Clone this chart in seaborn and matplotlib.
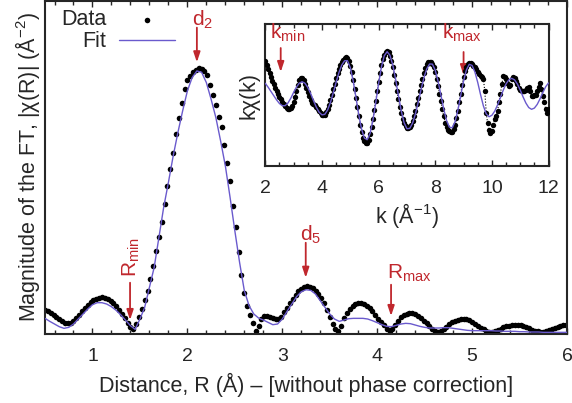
import numpy as np
import pandas as pd
import seaborn as sns
import matplotlib.pyplot as plt
from matplotlib.ticker import MultipleLocator

# FT magnitude, data on a 0.03 A grid (arbitrary units, peak ~0.8)
r_data = np.round(np.arange(0.5, 6.0, 0.03), 2)
chir_data = [0.072, 0.068, 0.063, 0.057, 0.051, 0.045, 0.039, 0.034, 0.032, 0.034,
             0.040, 0.048, 0.058, 0.068, 0.078, 0.087, 0.095, 0.101, 0.106, 0.109,
             0.110, 0.109, 0.106, 0.100, 0.092, 0.083, 0.072, 0.060, 0.047, 0.034,
             0.022, 0.016, 0.030, 0.052, 0.075, 0.102, 0.130, 0.165, 0.205, 0.248,
             0.290, 0.335, 0.390, 0.445, 0.495, 0.545, 0.600, 0.650, 0.695, 0.735,
             0.762, 0.775, 0.786, 0.794, 0.798, 0.796, 0.790, 0.777, 0.748, 0.718,
             0.688, 0.652, 0.622, 0.569, 0.514, 0.458, 0.385, 0.320, 0.245, 0.178,
             0.122, 0.084, 0.057, 0.032, 0.010, 0.025, 0.045, 0.053, 0.054, 0.052,
             0.048, 0.045, 0.044, 0.050, 0.065, 0.078, 0.092, 0.105, 0.118, 0.128,
             0.136, 0.141, 0.143, 0.142, 0.138, 0.130, 0.120, 0.108, 0.092, 0.073,
             0.050, 0.030, 0.014, 0.008, 0.025, 0.048, 0.063, 0.075, 0.085, 0.090,
             0.093, 0.093, 0.090, 0.085, 0.078, 0.068, 0.057, 0.045, 0.035, 0.026,
             0.016, 0.008, 0.015, 0.028, 0.040, 0.050, 0.056, 0.060, 0.062, 0.062,
             0.060, 0.055, 0.048, 0.040, 0.032, 0.024, 0.016, 0.010, 0.006, 0.008,
             0.014, 0.022, 0.029, 0.035, 0.040, 0.043, 0.045, 0.045, 0.044, 0.041,
             0.036, 0.031, 0.025, 0.019, 0.014, 0.010, 0.007, 0.006, 0.008, 0.012,
             0.016, 0.020, 0.023, 0.025, 0.027, 0.027, 0.027, 0.026, 0.024, 0.021,
             0.017, 0.013, 0.010, 0.008, 0.007, 0.007, 0.009, 0.012, 0.015, 0.019,
             0.022, 0.024, 0.026, 0.028]

# fit, 0.05 A grid
r_fit = np.round(np.arange(0.5, 6.001, 0.05), 2)
chir_fit = [0.047, 0.038, 0.030, 0.022, 0.017, 0.020, 0.030, 0.045, 0.060, 0.075,
            0.088, 0.094, 0.094, 0.090, 0.082, 0.071, 0.057, 0.041, 0.025, 0.014,
            0.045, 0.080, 0.140, 0.200, 0.290, 0.380, 0.455, 0.534, 0.605, 0.670,
            0.730, 0.770, 0.790, 0.786, 0.755, 0.705, 0.650, 0.580, 0.505, 0.410,
            0.310, 0.215, 0.130, 0.085, 0.060, 0.048, 0.042, 0.035, 0.028, 0.030,
            0.045, 0.068, 0.090, 0.112, 0.127, 0.133, 0.131, 0.120, 0.100, 0.080,
            0.060, 0.045, 0.038, 0.042, 0.046, 0.047, 0.047, 0.047, 0.045, 0.040,
            0.034, 0.028, 0.023, 0.022, 0.026, 0.030, 0.032, 0.031, 0.027, 0.023,
            0.020, 0.018, 0.018, 0.018, 0.019, 0.019, 0.017, 0.015, 0.013, 0.011,
            0.010, 0.010, 0.010, 0.010, 0.010, 0.009, 0.009, 0.008, 0.008, 0.008,
            0.007, 0.007, 0.006, 0.006, 0.006, 0.005, 0.005, 0.005, 0.005, 0.005,
            0.005]

# inset: k*chi(k), data every 0.05 1/A
k_data = np.round(np.arange(2.0, 12.001, 0.05), 2)
kchi_data = [0.48, 0.42, 0.37, 0.31, 0.25, 0.20, 0.15, 0.095, 0.05, 0.01,
             -0.03, -0.06, -0.10, -0.13, -0.16, -0.18, -0.195, -0.20, -0.185, -0.15,
             -0.10, -0.03, 0.05, 0.14, 0.21, 0.245, 0.245, 0.21, 0.16, 0.10,
             0.04, -0.02, -0.07, -0.11, -0.125, -0.14, -0.165, -0.19, -0.22, -0.25,
             -0.275, -0.285, -0.275, -0.245, -0.20, -0.14, -0.075, 0.00, 0.08, 0.16,
             0.24, 0.31, 0.37, 0.42, 0.465, 0.50, 0.525, 0.535, 0.52, 0.48,
             0.41, 0.32, 0.21, 0.09, -0.04, -0.17, -0.30, -0.42, -0.52, -0.60,
             -0.65, -0.68, -0.67, -0.63, -0.55, -0.45, -0.34, -0.21, -0.08, 0.06,
             0.19, 0.31, 0.42, 0.51, 0.57, 0.61, 0.625, 0.60, 0.55, 0.48,
             0.39, 0.28, 0.17, 0.05, -0.06, -0.17, -0.26, -0.34, -0.40, -0.44,
             -0.465, -0.47, -0.455, -0.42, -0.37, -0.30, -0.22, -0.13, -0.04, 0.05,
             0.14, 0.23, 0.31, 0.38, 0.43, 0.46, 0.47, 0.465, 0.44, 0.39,
             0.32, 0.23, 0.13, 0.02, -0.09, -0.20, -0.30, -0.39, -0.45, -0.49,
             -0.51, -0.52, -0.515, -0.48, -0.42, -0.33, -0.22, -0.10, 0.02, 0.14,
             0.25, 0.34, 0.40, 0.435, 0.45, 0.445, 0.43, 0.415, 0.40, 0.37,
             0.33, 0.29, 0.27, 0.25, 0.23, 0.05, -0.25, -0.40, -0.49, -0.54,
             -0.50, -0.42, -0.34, -0.29, -0.22, -0.10, 0.02, 0.15, 0.27, 0.26,
             0.22, 0.17, 0.13, 0.14, 0.22, 0.26, 0.24, 0.20, 0.15, 0.10,
             0.07, 0.06, 0.05, 0.05, 0.07, 0.10, 0.11, 0.05, -0.02, -0.01,
             0.00, 0.00, 0.05, 0.12, 0.17, 0.08, -0.02, -0.10, -0.20, -0.26,
             -0.20]

k_fit = np.round(np.arange(2.0, 12.001, 0.1), 1)
kchi_fit = [0.165, 0.11, 0.05, -0.01, -0.07, -0.12, -0.15, -0.150, -0.112, -0.045,
            0.037, 0.113, 0.167, 0.187, 0.166, 0.107, 0.021, -0.077, -0.170, -0.242,
            -0.279, -0.272, -0.211, -0.105, 0.032, 0.179, 0.316, 0.422, 0.483, 0.484,
            0.388, 0.204, -0.033, -0.278, -0.482, -0.607, -0.629, -0.539, -0.353, -0.105,
            0.160, 0.394, 0.553, 0.610, 0.561, 0.425, 0.224, -0.006, -0.223, -0.389,
            -0.475, -0.470, -0.396, -0.267, -0.099, 0.080, 0.244, 0.369, 0.437, 0.435,
            0.349, 0.194, -0.001, -0.198, -0.360, -0.453, -0.461, -0.375, -0.211, -0.006,
            0.198, 0.355, 0.432, 0.417, 0.325, 0.177, 0.005, -0.154, -0.265, -0.306,
            -0.285, -0.227, -0.139, -0.036, 0.068, 0.156, 0.214, 0.235, 0.214, 0.155,
            0.070, -0.026, -0.113, -0.176, -0.201, -0.184, -0.132, -0.053, 0.036, 0.118,
            0.170]

sns.set_theme(style='ticks', rc={'axes.linewidth': 1.5})
plt.rcParams['font.family'] = ['Liberation Sans', 'DejaVu Sans']
plt.rcParams['mathtext.default'] = 'regular'

red = '#c0272d'
blue = '#6a5acd'
fs = 15.5     # axis labels, legend
fs_note = 15  # red markers
fs_tick = 14
arrow = dict(arrowstyle='-|>,head_length=0.6,head_width=0.2', color=red, lw=1.3,
             mutation_scale=10, shrinkA=0, shrinkB=0)

fig = plt.figure(figsize=(5.72, 4.03), dpi=100)
ax = fig.add_axes([0.0787, 0.1712, 0.9126, 0.8263])

sns.scatterplot(x=r_data, y=chir_data, ax=ax, color='black', s=16, linewidth=0,
                label='Data', zorder=2)
sns.lineplot(x=r_fit, y=chir_fit, ax=ax, color=blue, lw=1.0, label='Fit', zorder=3)

ax.set_xlim(0.5, 6)
ax.set_ylim(0, 1)
ax.set_yticks([])
ax.xaxis.set_major_locator(MultipleLocator(1))
ax.xaxis.set_minor_locator(MultipleLocator(0.2))
ax.tick_params(axis='x', which='both', direction='in', top=True, labelsize=fs_tick, pad=10)
ax.tick_params(axis='x', which='major', length=4, width=1)
ax.tick_params(axis='x', which='minor', length=3, width=1)
ax.set_xlabel('Distance, R (Å) – [without phase correction]', fontsize=fs, labelpad=6)
ax.set_ylabel('Magnitude of the FT, |χ(R)| (Å$^{-2}$)', fontsize=fs, labelpad=2)

h, l = ax.get_legend_handles_labels()
ax.legend(h, l, loc='upper right', bbox_to_anchor=(0.249, 0.975), markerfirst=False,
          frameon=False, fontsize=fs, handlelength=2.6, handletextpad=0.6,
          labelspacing=0.05, borderpad=0, borderaxespad=0)

# markers on the main panel
ax.annotate('', xy=(2.10, 0.816), xytext=(2.10, 0.92), arrowprops=arrow)
ax.text(2.05, 0.925, 'd$_2$', color=red, fontsize=fs_note, ha='left', va='baseline')
ax.annotate('', xy=(1.396, 0.042), xytext=(1.396, 0.154), arrowprops=arrow)
ax.text(1.411, 0.172, 'R$_{min}$', color=red, fontsize=fs_note, rotation=90,
        ha='center', va='bottom')
ax.annotate('', xy=(3.247, 0.169), xytext=(3.247, 0.274), arrowprops=arrow)
ax.text(3.187, 0.280, 'd$_5$', color=red, fontsize=fs_note, ha='left', va='baseline')
ax.annotate('', xy=(4.146, 0.054), xytext=(4.146, 0.148), arrowprops=arrow)
ax.text(4.104, 0.166, 'R$_{max}$', color=red, fontsize=fs_note, ha='left', va='baseline')

# inset
ax_in = fig.add_axes([0.4638, 0.588, 0.4952, 0.3524])
sns.lineplot(x=k_data, y=kchi_data, ax=ax_in, color='black', lw=0.8, linestyle=':',
             zorder=2)
sns.scatterplot(x=k_data, y=kchi_data, ax=ax_in, color='black', s=15, linewidth=0,
                zorder=3)
sns.lineplot(x=k_fit, y=kchi_fit, ax=ax_in, color=blue, lw=1.0, zorder=4)
ax_in.set_xlim(2, 12)
ax_in.set_ylim(-1, 1)
ax_in.set_yticks([])
ax_in.xaxis.set_major_locator(MultipleLocator(2))
ax_in.xaxis.set_minor_locator(MultipleLocator(0.5))
ax_in.tick_params(axis='x', which='both', direction='in', top=True, labelsize=fs_tick, pad=10)
ax_in.tick_params(axis='x', which='major', length=4, width=1)
ax_in.tick_params(axis='x', which='minor', length=3, width=1)
ax_in.set_xlabel('k (Å$^{-1}$)', fontsize=fs, labelpad=3)
ax_in.set_ylabel('kχ(k)', fontsize=fs, labelpad=4)

ax_in.annotate('', xy=(2.544, 0.324), xytext=(2.544, 0.662), arrowprops=arrow)
ax_in.text(2.166, 0.789, 'k$_{min}$', color=red, fontsize=fs_note, ha='left', va='baseline')
ax_in.annotate('', xy=(9.0, 0.28), xytext=(9.0, 0.606), arrowprops=arrow, zorder=1)
ax_in.text(8.244, 0.789, 'k$_{max}$', color=red, fontsize=fs_note, ha='left', va='baseline')

fig.savefig('out.png', dpi=100)
